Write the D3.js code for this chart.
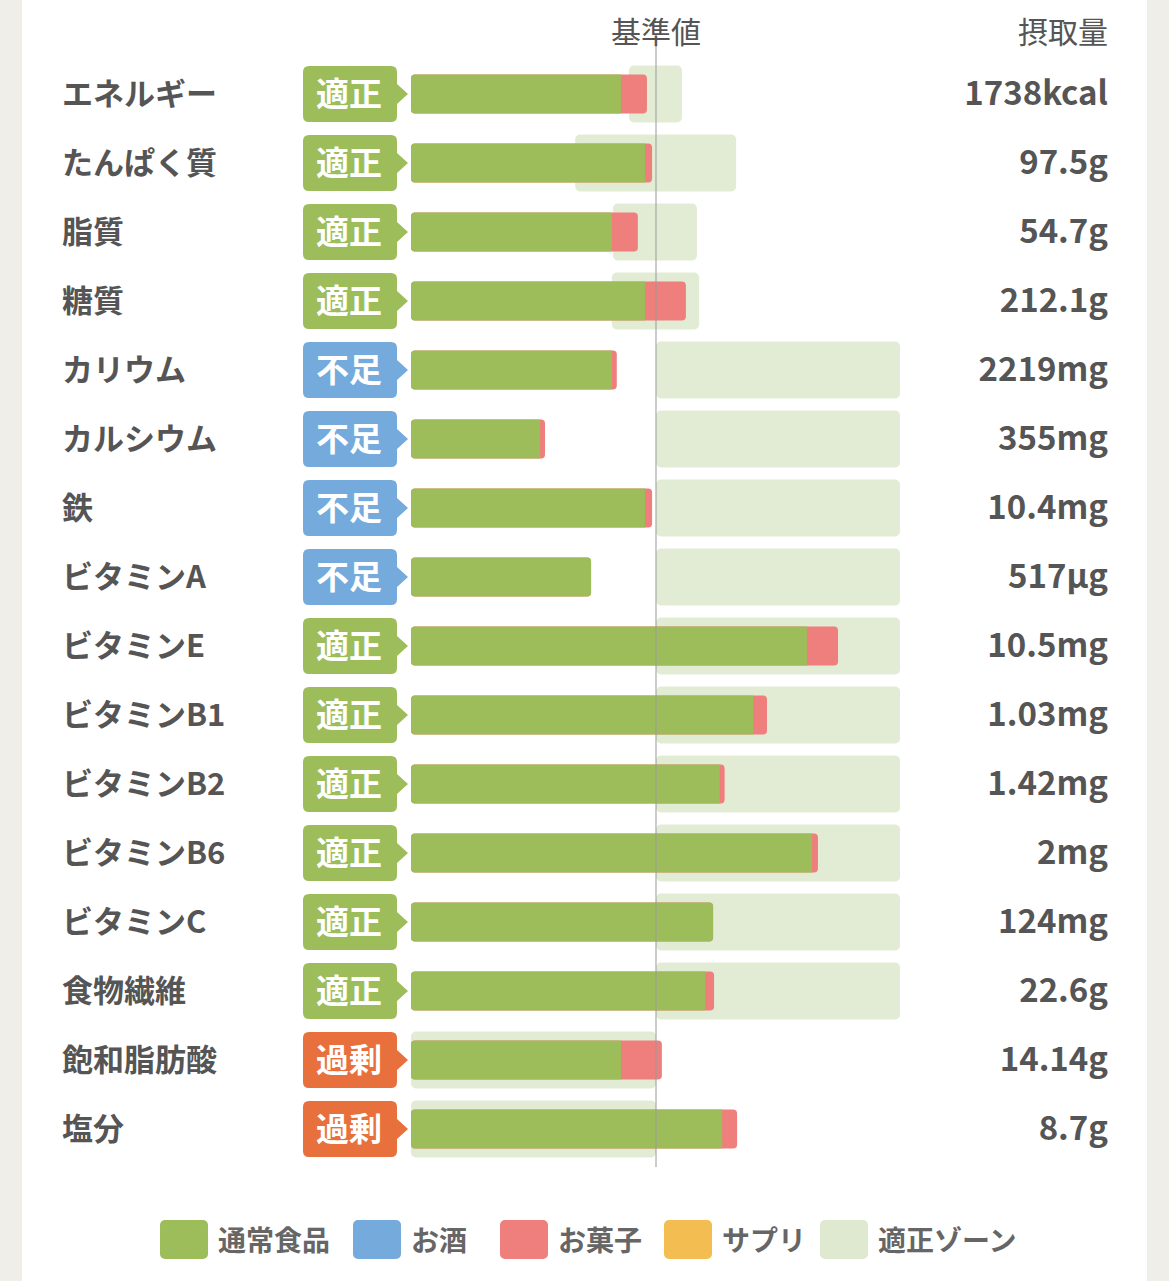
<!DOCTYPE html>
<html><head><meta charset="utf-8">
<script src="https://cdn.jsdelivr.net/npm/d3@7"></script>
<style>
body{margin:0;background:#efeee8;}
svg{display:block;font-family:"Noto Sans CJK JP","Noto Sans",sans-serif;}
</style></head>
<body><svg id="chart" width="1169" height="1281"></svg>
<script>
var nutrients = ['エネルギー','たんぱく質','脂質','糖質','カリウム','カルシウム','鉄','ビタミンA','ビタミンE','ビタミンB1','ビタミンB2','ビタミンB6','ビタミンC','食物繊維','飽和脂肪酸','塩分'];
var statuses = ['適正','適正','適正','適正','不足','不足','不足','不足','適正','適正','適正','適正','適正','適正','過剰','過剰'];
// percent of reference value
var normalFood = [85.7,95.5,82,95.5,82,52.7,95.5,73.5,161.6,139.6,126,163.7,123.3,120,85.7,127];
var sweets = [10.6,2.9,10.6,16.7,2,2,2.9,0,12.7,5.7,2,2.4,0,3.7,16.7,6.1];
var zoneLow = [89,67,82.4,82,100,100,100,100,100,100,100,100,100,100,0,0];
var zoneHigh = [110.6,132.7,116.7,117.6,199.6,199.6,199.6,199.6,199.6,199.6,199.6,199.6,199.6,199.6,100,100];
var intake = ['1738kcal','97.5g','54.7g','212.1g','2219mg','355mg','10.4mg','517µg','10.5mg','1.03mg','1.42mg','2mg','124mg','22.6g','14.14g','8.7g'];
var legendLabels = ['通常食品','お酒','お菓子','サプリ','適正ゾーン'];
var legendColors = ['#9dbd5b','#74aadc','#ee7f7c','#f3bd52','#dfe9cf'];
var statusColor = {'適正':'#9dbd5b','不足':'#74aadc','過剰':'#e8703c'};

var svg = d3.select('#chart');
svg.append('rect').attr('x',22).attr('y',0).attr('width',1125).attr('height',1281).attr('fill','#fff');

var x = d3.scaleLinear().domain([0,100]).range([411,656]);
var y = d3.scaleBand().domain(nutrients).range([59.5,1163.5]);
var rowH = y.bandwidth();

var rows = svg.selectAll('.row').data(nutrients).enter().append('g')
  .attr('class','row')
  .attr('transform', function(d){ return 'translate(0,' + (y(d) + rowH/2) + ')'; });

// zone
rows.append('rect')
  .attr('x', function(d,i){ return x(zoneLow[i]); })
  .attr('width', function(d,i){ return x(zoneHigh[i]) - x(zoneLow[i]); })
  .attr('y',-28.5).attr('height',57).attr('rx',5)
  .attr('fill','#dfe9cf').attr('opacity',0.9);

// sweets (drawn under green end)
rows.append('rect')
  .attr('x', function(d,i){ return x(0); })
  .attr('width', function(d,i){ return x(normalFood[i] + sweets[i]) - x(0); })
  .attr('y',-19.5).attr('height',39).attr('rx',4)
  .attr('fill','#ee7f7c');
rows.append('path')
  .attr('d', function(d,i){
    var x0 = x(0), x1 = x(normalFood[i]), r = 4;
    var rr = sweets[i] > 0 ? 0 : r;
    return 'M'+(x0+r)+',-19.5 H'+(x1-rr)+' Q'+x1+',-19.5 '+x1+','+(-19.5+rr)+
      ' V'+(19.5-rr)+' Q'+x1+',19.5 '+(x1-rr)+',19.5 H'+(x0+r)+' Q'+x0+',19.5 '+x0+','+(19.5-r)+
      ' V'+(-19.5+r)+' Q'+x0+',-19.5 '+(x0+r)+',-19.5 Z';
  })
  .attr('fill','#9dbd5b');

// badges
rows.append('path')
  .attr('d','M309,-28 H391 Q397,-28 397,-22 V-10 L408,0 L397,10 V22 Q397,28 391,28 H309 Q303,28 303,22 V-22 Q303,-28 309,-28 Z')
  .attr('fill', function(d,i){ return statusColor[statuses[i]]; });
rows.append('text').attr('x',349).attr('y',12)
  .attr('text-anchor','middle').attr('font-size',33).attr('font-weight','bold')
  .attr('fill','#fff').text(function(d,i){ return statuses[i]; });

rows.append('text').attr('x',62).attr('y',11)
  .attr('font-size',31).attr('font-weight','bold').attr('fill','#555')
  .text(function(d){ return d; });
rows.append('text').attr('x',1108).attr('y',11).attr('text-anchor','end')
  .attr('font-size',33).attr('font-weight','bold').attr('fill','#555')
  .text(function(d,i){ return intake[i]; });

// reference line
svg.append('line').attr('x1',x(100)).attr('x2',x(100)).attr('y1',45).attr('y2',1167)
  .attr('stroke','#999').attr('stroke-width',1);

svg.append('text').attr('x',x(100)).attr('y',43).attr('text-anchor','middle')
  .attr('font-size',30).attr('fill','#555').text('基準値');
svg.append('text').attr('x',1108).attr('y',43).attr('text-anchor','end')
  .attr('font-size',30).attr('fill','#555').text('摂取量');

// legend
var legX = [160,353,500,664,820];
var leg = svg.selectAll('.leg').data(legendLabels).enter().append('g')
  .attr('class','leg').attr('transform', function(d,i){ return 'translate(' + legX[i] + ',1220)'; });
leg.append('rect').attr('width',48).attr('height',39).attr('rx',5)
  .attr('fill', function(d,i){ return legendColors[i]; });
leg.append('text').attr('x',58).attr('y',31).attr('font-size',28).attr('font-weight','bold')
  .attr('fill','#666').text(function(d){ return d; });
</script></body></html>
